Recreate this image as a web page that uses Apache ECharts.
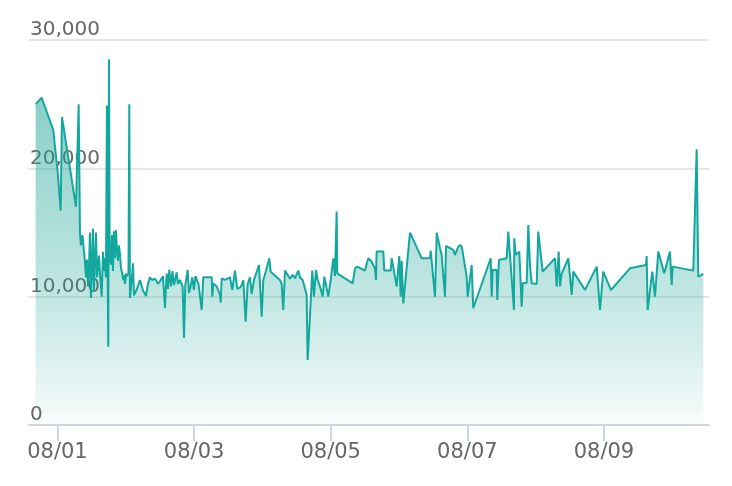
<!DOCTYPE html>
<html><head><meta charset="utf-8">
<script src="https://cdn.jsdelivr.net/npm/echarts@6/dist/echarts.min.js"></script>
<style>html,body{margin:0;padding:0;background:#fff}#c{width:732px;height:486px}</style>
</head><body><div id="c"></div>
<script>
const YEAR = 2019;
const xMin = '07-31 14:00';
const xMax = '08-10 12:54';
const yTicks = [0, 10000, 20000, 30000];
const times = [
'07-31 16:20','07-31 18:27','07-31 22:31','08-01 00:10','08-01 01:07','08-01 01:35','08-01 01:56','08-01 06:30','08-01 07:27','08-01 07:54',
'08-01 08:15','08-01 08:47','08-01 09:40','08-01 10:01','08-01 10:22','08-01 10:43','08-01 11:04','08-01 11:25','08-01 11:46','08-01 12:07',
'08-01 12:28','08-01 12:49','08-01 13:10','08-01 13:32','08-01 13:53','08-01 14:14','08-01 14:35','08-01 14:56','08-01 15:32','08-01 15:59',
'08-01 16:20','08-01 16:41','08-01 17:02','08-01 17:23','08-01 17:36','08-01 17:51','08-01 18:06','08-01 18:20','08-01 18:48','08-01 19:09',
'08-01 19:30','08-01 19:51','08-01 20:12','08-01 20:33','08-01 20:54','08-01 21:15','08-01 21:36','08-01 21:58','08-01 22:19','08-01 22:40',
'08-01 23:07','08-01 23:22','08-01 23:43','08-02 00:04','08-02 00:25','08-02 00:57','08-02 01:14','08-02 01:28','08-02 01:49','08-02 02:10',
'08-02 02:32','08-02 02:53','08-02 03:56','08-02 04:59','08-02 06:02','08-02 07:06','08-02 07:48','08-02 08:30','08-02 09:12','08-02 10:15',
'08-02 11:19','08-02 12:01','08-02 13:04','08-02 13:46','08-02 14:22','08-02 14:49','08-02 15:17','08-02 15:53','08-02 16:24','08-02 16:56',
'08-02 17:53','08-02 18:20','08-02 19:02','08-02 19:59','08-02 20:27','08-02 20:54','08-02 21:45','08-02 22:12','08-02 22:48','08-02 23:22',
'08-02 23:57','08-03 00:29','08-03 01:07','08-03 01:32','08-03 02:40','08-03 03:13','08-03 06:11','08-03 06:23','08-03 06:44','08-03 07:56',
'08-03 09:06','08-03 09:21','08-03 09:42','08-03 10:51','08-03 12:36','08-03 13:25','08-03 14:22','08-03 15:10','08-03 16:07','08-03 16:43',
'08-03 17:17','08-03 18:07','08-03 18:49','08-03 19:38','08-03 20:14','08-03 21:02','08-03 21:38','08-03 22:48','08-03 23:45','08-04 00:18',
'08-04 01:15','08-04 02:25','08-04 02:54','08-04 06:10','08-04 06:46','08-04 07:20','08-04 07:56','08-04 08:32','08-04 09:41','08-04 10:38',
'08-04 11:27','08-04 12:36','08-04 13:12','08-04 14:09','08-04 15:33','08-04 15:54','08-04 16:43','08-04 17:31','08-04 18:07','08-04 18:49',
'08-04 19:25','08-04 20:14','08-04 21:11','08-04 21:45','08-04 22:14','08-04 23:09','08-04 23:59','08-05 00:54','08-05 01:30','08-05 02:05',
'08-05 02:18','08-05 07:43','08-05 08:31','08-05 09:20','08-05 12:02','08-05 12:34','08-05 13:12','08-05 14:09','08-05 15:33','08-05 15:54',
'08-05 16:08','08-05 18:28','08-05 18:49','08-05 21:04','08-05 21:25','08-05 21:59','08-05 23:10','08-06 00:05','08-06 00:35','08-06 00:56',
'08-06 01:30','08-06 03:51','08-06 07:58','08-06 10:52','08-06 11:07','08-06 12:38','08-06 13:14','08-06 14:23','08-06 14:59','08-06 16:09',
'08-06 16:30','08-06 19:04','08-06 19:39','08-06 20:49','08-06 21:39','08-06 22:07','08-06 23:46','08-07 00:07','08-07 01:31','08-07 02:05',
'08-07 08:12','08-07 08:33','08-07 08:54','08-07 10:18','08-07 10:31','08-07 11:07','08-07 13:49','08-07 14:23','08-07 16:23','08-07 16:29',
'08-07 16:59','08-07 18:15','08-07 19:06','08-07 19:27','08-07 20:51','08-07 21:25','08-07 22:01','08-07 22:36','08-08 00:22','08-08 00:55',
'08-08 02:28','08-08 06:47','08-08 07:23','08-08 08:05','08-08 08:33','08-08 09:09','08-08 11:28','08-08 12:40','08-08 13:14','08-08 17:20',
'08-08 21:27','08-08 22:00','08-08 22:36','08-08 23:45','08-09 02:28','08-09 09:08','08-09 14:45','08-09 15:00','08-09 15:21','08-09 16:58',
'08-09 17:55','08-09 19:05','08-09 21:11','08-09 23:11','08-09 23:47','08-10 00:08','08-10 07:23','08-10 08:34','08-10 09:08','08-10 10:54'
];
const values = [
25000,25500,23000,19500,16700,24000,23900,17000,25000,15000,
14000,14800,12700,11500,12900,10800,12200,15000,9900,12500,
15300,10500,12800,15000,11500,12300,13200,11800,10000,13500,
12000,13000,11500,24900,13000,6100,28500,13500,12500,14800,
12000,15100,13000,15200,13600,12800,14000,13300,12200,11900,
11300,11700,11000,11800,11600,11800,25000,9900,10000,11500,
12600,10100,10600,11300,10500,10050,11000,11500,11300,11400,
11000,11200,11600,9100,11800,10600,12100,10800,12000,10900,
11900,11000,11300,10780,6780,10900,12080,10290,10830,11510,
10520,11600,11750,11000,8960,11510,11510,10000,11040,10800,
10130,9530,11430,11300,11510,10520,12030,10600,10700,10910,
11300,8050,11000,11510,10200,11300,11200,12470,8440,11300,
12000,12990,11950,11300,11000,8960,12030,11900,11400,11700,
11430,12030,11500,11300,10130,5070,8500,12030,10000,12080,
11300,10800,10000,11560,11700,10000,11300,12990,11600,16630,
11820,11040,12210,12340,12030,12500,12990,12800,12210,11300,
13510,13510,12030,12030,12990,12300,10780,13170,10000,12800,
9480,14990,12990,12990,13590,10000,14990,13800,13250,10000,
13950,13640,13250,13900,14030,13800,11560,10000,12470,9100,
12990,10000,12080,12080,9740,12860,12990,15070,8960,14550,
13250,13510,9220,11040,11090,15590,12400,11040,10990,15070,
11950,12990,10780,13510,10800,11800,12990,10130,11950,10520,
12340,12300,8960,11950,10520,12210,12470,13170,8960,11950,
10000,13510,11820,13510,10910,12340,12030,21490,11560,11770
];

function toTs(s) {
  const [md, hm] = s.split(' ');
  const [mo, d] = md.split('-').map(Number);
  const [h, mi] = hm.split(':').map(Number);
  return new Date(YEAR, mo - 1, d, h, mi).getTime();
}
const seriesData = times.map((t, i) => [toTs(t), values[i]]);
const pad = n => (n < 10 ? '0' : '') + n;

const chart = echarts.init(document.getElementById('c'), null, { renderer: 'canvas' });
chart.setOption({
  animation: false,
  backgroundColor: '#ffffff',
  grid: { left: 29, right: 23, top: 40, bottom: 61, containLabel: false },
  xAxis: {
    type: 'time',
    min: toTs(xMin),
    max: toTs(xMax),
    splitNumber: 5,
    axisLine: { show: true, lineStyle: { color: '#ccd6eb', width: 2 } },
    axisTick: { show: true, length: 16, lineStyle: { color: '#ccd6eb', width: 2 } },
    splitLine: { show: false },
    axisLabel: {
      color: '#666666', fontSize: 21, fontFamily: 'DejaVu Sans', margin: 17,
      formatter: v => { const d = new Date(v); return pad(d.getMonth() + 1) + '/' + pad(d.getDate()); }
    }
  },
  yAxis: {
    type: 'value',
    min: yTicks[0],
    max: yTicks[yTicks.length - 1],
    interval: yTicks[1] - yTicks[0],
    axisLine: { show: false },
    axisTick: { show: false },
    splitLine: { show: true, lineStyle: { color: '#e6e6e6', width: 2 } },
    axisLabel: {
      inside: true, margin: 1, verticalAlign: 'bottom', align: 'left',
      color: '#666666', fontSize: 20, fontFamily: 'DejaVu Sans',
      formatter: v => v.toLocaleString('en-US')
    }
  },
  series: [{
    type: 'line',
    data: seriesData,
    showSymbol: false,
    symbol: 'none',
    sampling: null,
    lineStyle: { color: '#13a89e', width: 2 },
    itemStyle: { color: '#13a89e' },
    areaStyle: {
      color: new echarts.graphic.LinearGradient(0, 0, 0, 1, [
        { offset: 0, color: 'rgba(28,164,151,0.82)' },
        { offset: 0.11, color: 'rgba(28,164,151,0.74)' },
        { offset: 0.65, color: 'rgba(28,164,151,0.38)' },
        { offset: 0.93, color: 'rgba(28,164,151,0.12)' },
        { offset: 1, color: 'rgba(28,164,151,0.02)' }
      ])
    }
  }]
});
</script>
</body></html>
